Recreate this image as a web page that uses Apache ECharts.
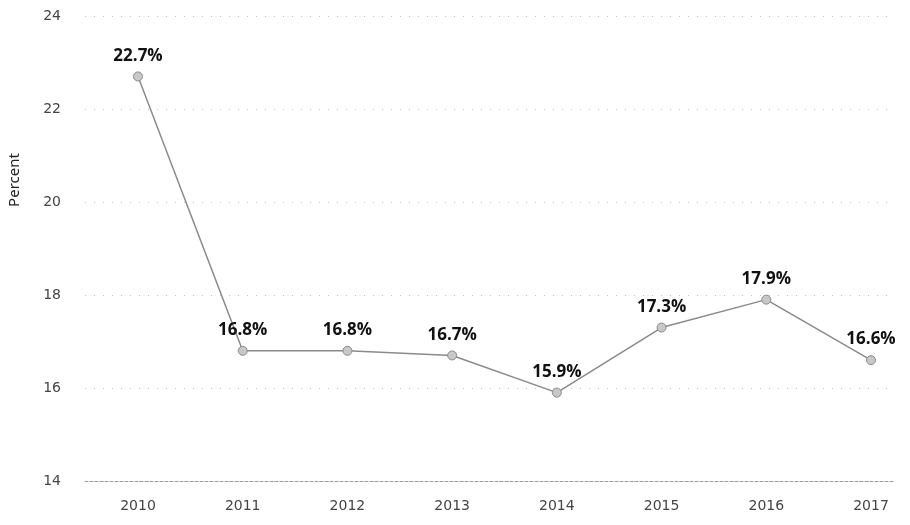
<!DOCTYPE html>
<html>
<head>
    <meta charset="utf-8">
    <title>Percent by year</title>
    <script src="https://cdn.jsdelivr.net/npm/echarts@6/dist/echarts.min.js"></script>
    <style>
        body { margin: 0; background: #fff; }
        #main { width: 910px; height: 525px; }
    </style>
</head>
<body>
    <div id="main"></div>
    <script type="text/javascript">
        // data
        var years = ['2010', '2011', '2012', '2013', '2014', '2015', '2016', '2017'];
        var percent = [22.7, 16.8, 16.8, 16.7, 15.9, 17.3, 17.9, 16.6];
        var yMin = 14, yMax = 24, yStep = 2;

        var chart = echarts.init(document.getElementById('main'));
        var option = {
            backgroundColor: '#fff',
            animation: false,
            // grid 0 only carries the y axis and the dotted gridlines (wider),
            // grid 1 carries the years and the line
            grid: [
                { left: 85, right: 15, top: 16, bottom: 44 },
                { left: 138, right: 39, top: 16, bottom: 44 }
            ],
            graphic: [{
                type: 'text',
                x: 15,
                y: 180,
                rotation: Math.PI / 2,
                style: {
                    text: 'Percent',
                    fill: '#222',
                    font: '15px "Noto Sans"',
                    textAlign: 'center',
                    textVerticalAlign: 'middle'
                }
            }],
            xAxis: [{
                gridIndex: 0,
                type: 'value',
                min: 0, max: 1,
                axisLine: {
                    show: true,
                    lineStyle: { color: '#9a9a9a', type: [3, 2], width: 1 }
                },
                axisTick: { show: false },
                axisLabel: { show: false },
                splitLine: { show: false }
            }, {
                gridIndex: 1,
                type: 'category',
                data: years,
                boundaryGap: false,
                axisLine: { show: false },
                axisTick: { show: false },
                axisLabel: {
                    margin: 18,
                    color: '#444',
                    fontFamily: 'DejaVu Sans',
                    fontSize: 14
                }
            }],
            yAxis: [{
                gridIndex: 0,
                type: 'value',
                min: yMin, max: yMax, interval: yStep,
                axisLine: { show: false },
                axisTick: { show: false },
                axisLabel: {
                    margin: 24,
                    color: '#444',
                    fontFamily: 'DejaVu Sans',
                    fontSize: 14
                },
                splitLine: {
                    lineStyle: { color: '#c4c4c4', type: [1, 8], width: 1 }
                }
            }, {
                gridIndex: 1,
                type: 'value',
                min: yMin, max: yMax, interval: yStep,
                show: false,
                splitLine: { show: false }
            }],
            series: [{
                type: 'line',
                xAxisIndex: 1,
                yAxisIndex: 1,
                data: percent,
                symbol: 'circle',
                symbolSize: 9,
                lineStyle: { color: '#8a8a8a', width: 1.5 },
                itemStyle: { color: '#c8c8c8', borderColor: '#8a8a8a', borderWidth: 1 },
                label: {
                    show: true,
                    position: 'top',
                    distance: 7,
                    formatter: function (p) { return p.value.toFixed(1) + '%'; },
                    color: '#111',
                    fontFamily: 'Open Sans',
                    fontWeight: 'bold',
                    fontSize: 17
                }
            }]
        };
        chart.setOption(option);
    </script>
</body>
</html>
